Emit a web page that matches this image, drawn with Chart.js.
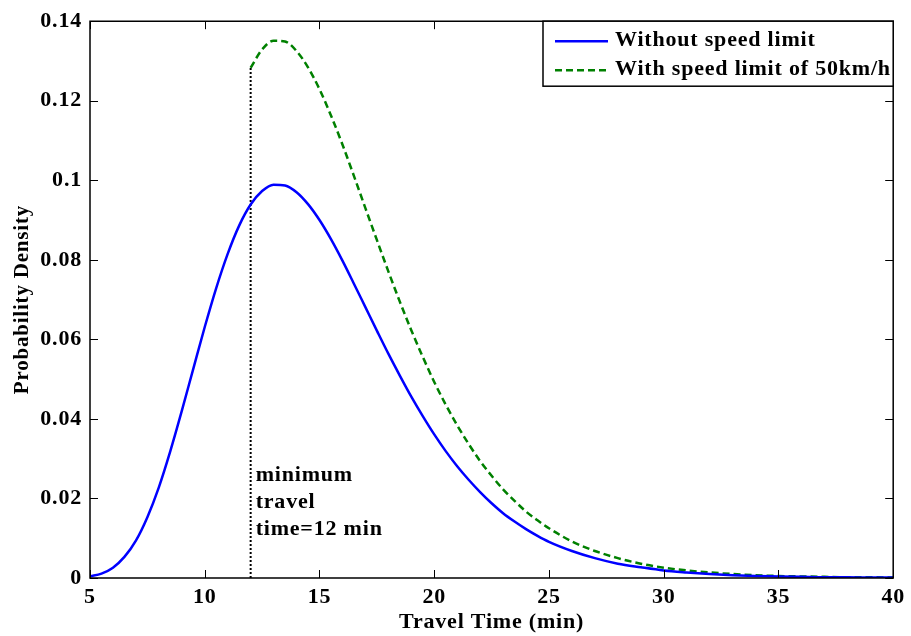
<!DOCTYPE html>
<html lang="en">
<head>
<meta charset="UTF-8">
<title>Travel time distribution</title>
<script src="https://cdn.jsdelivr.net/npm/chart.js@4.4.1/dist/chart.umd.min.js"></script>
<style>
  html, body { margin: 0; padding: 0; background: #fff; }
  #box { width: 911px; height: 636px; }
</style>
</head>
<body>
<div id="box"><canvas id="myChart"></canvas></div>
<script>
// travel time (min)
const times = [5, 5.5, 6, 6.5, 7, 7.5, 8, 8.5, 9, 9.5, 10, 10.5, 11, 11.5,
               12, 12.5, 13, 13.5, 14, 14.5, 15, 15.5, 16, 16.5, 17, 17.5, 18, 18.5,
               19, 19.5, 20, 20.5, 21, 21.5, 22, 22.5, 23, 23.5, 24, 24.5, 25,
               26, 27, 28, 29, 30, 31, 32, 33, 34, 35, 36, 37, 38, 39, 40];
// probability density
const withoutLimit = [0.0004, 0.0011, 0.0026, 0.0053, 0.0094, 0.0153, 0.0228, 0.0319, 0.0420, 0.0526,
                      0.0631, 0.0729, 0.0815, 0.0886, 0.0939, 0.0973, 0.0989, 0.0987, 0.0970, 0.0940,
                      0.0900, 0.0852, 0.0798, 0.0740, 0.0681, 0.0622, 0.0564, 0.0509, 0.0456, 0.0407,
                      0.0361, 0.0319, 0.0281, 0.0247, 0.0216, 0.0188, 0.0163, 0.0142, 0.0123, 0.0106,
                      0.0091, 0.0068, 0.0050, 0.0036, 0.0027, 0.0019, 0.0014, 0.0010, 0.0007, 0.0005,
                      0.0004, 0.0003, 0.0002, 0.0002, 0.0001, 0.0001];
const withLimit = [null, null, null, null, null, null, null, null, null, null, null, null, null, null,
                   0.1283, 0.1329, 0.1351, 0.1349, 0.1325, 0.1284, 0.1229, 0.1163, 0.1090, 0.1011,
                   0.0930, 0.0850, 0.0771, 0.0695, 0.0623, 0.0556, 0.0493, 0.0436, 0.0384, 0.0337,
                   0.0294, 0.0257, 0.0223, 0.0194, 0.0167, 0.0145, 0.0125,
                   0.0092, 0.0068, 0.0050, 0.0036, 0.0026, 0.0019, 0.0014, 0.0010, 0.0007, 0.0005,
                   0.0004, 0.0003, 0.0002, 0.0002, 0.0001];
const minTime = 12;
const seriesNames = ['Without speed limit', 'With speed limit of 50km/h'];
const noteLines = ['minimum', 'travel', 'time=12 min'];
const xTicks = [5, 10, 15, 20, 25, 30, 35, 40];
const yTickLabels = ['0', '0.02', '0.04', '0.06', '0.08', '0.1', '0.12', '0.14'];

const FONT = "'Times New Roman', 'Liberation Serif', serif";
const SPACING = '0.8px'; // matlab prints its text a bit spread out

function f_points(p_ys) {
    let l_pts = [];
    for (let i = 0; i < times.length; i++) {
        if (p_ys[i] !== null) l_pts.push({x: times[i], y: p_ys[i]});
    }
    return l_pts;
}
let l_start = withLimit.find(v => v !== null);

// frame, inward ticks, note text and legend (matlab look)
const matlabPlugin = {
    id: 'matlab',
    beforeLayout(chart) { chart.ctx.letterSpacing = SPACING; },
    beforeDraw(chart) { chart.ctx.letterSpacing = SPACING; },
    afterDatasetsDraw(chart) {
        const ctx = chart.ctx, a = chart.chartArea;
        const xs = chart.scales.x, ys = chart.scales.y;
        ctx.save();
        ctx.letterSpacing = SPACING;
        ctx.strokeStyle = '#000';
        ctx.lineWidth = 1.5;
        ctx.beginPath();
        ctx.rect(a.left, a.top, a.right - a.left, a.bottom - a.top);
        ctx.stroke();
        ctx.lineWidth = 1;
        ctx.beginPath();
        xTicks.forEach(v => {
            const px = Math.round(xs.getPixelForValue(v)) + 0.5;
            ctx.moveTo(px, a.bottom); ctx.lineTo(px, a.bottom - 8);
            ctx.moveTo(px, a.top); ctx.lineTo(px, a.top + 8);
        });
        ys.ticks.forEach(t => {
            const py = Math.round(ys.getPixelForValue(t.value)) + 0.5;
            ctx.moveTo(a.left, py); ctx.lineTo(a.left + 8, py);
            ctx.moveTo(a.right, py); ctx.lineTo(a.right - 8, py);
        });
        ctx.stroke();

        // note next to the dotted line
        ctx.fillStyle = '#000';
        ctx.font = 'bold 22px ' + FONT;
        ctx.textBaseline = 'middle';
        ctx.textAlign = 'left';
        const nx = xs.getPixelForValue(minTime) + 5;
        noteLines.forEach((s, i) => ctx.fillText(s, nx, 475 + i * 27));

        // legend box
        const lx = 543, ly = a.top, lw = a.right - lx, lh = 65;
        ctx.fillStyle = '#fff';
        ctx.fillRect(lx, ly, lw, lh);
        ctx.lineWidth = 1.5;
        ctx.strokeRect(lx, ly, lw, lh);
        chart.data.datasets.slice(0, 2).forEach((ds, i) => {
            const cy = ly + 20 + i * 29;
            ctx.strokeStyle = ds.borderColor;
            ctx.lineWidth = ds.borderWidth;
            ctx.setLineDash(ds.borderDash || []);
            ctx.beginPath();
            ctx.moveTo(555, cy); ctx.lineTo(608, cy);
            ctx.stroke();
            ctx.setLineDash([]);
            ctx.fillStyle = '#000';
            ctx.font = 'bold 22px ' + FONT;
            ctx.fillText(ds.label, 615, cy - 1);
        });
        ctx.restore();
    }
};

const ctx = document.getElementById('myChart').getContext('2d');
const myChart = new Chart(ctx, {
    type: 'line',
    data: {
        datasets: [{
            label: seriesNames[0],
            data: f_points(withoutLimit),
            borderColor: '#0000ff',
            borderWidth: 2.5,
            pointRadius: 0,
            cubicInterpolationMode: 'monotone'
        }, {
            label: seriesNames[1],
            data: f_points(withLimit),
            borderColor: '#008000',
            borderWidth: 2.5,
            borderDash: [7, 4],
            pointRadius: 0,
            cubicInterpolationMode: 'monotone'
        }, {
            label: 'min',
            data: [{x: minTime, y: 0}, {x: minTime, y: l_start}],
            borderColor: '#000',
            borderWidth: 2,
            borderDash: [2, 2],
            pointRadius: 0
        }]
    },
    options: {
        responsive: true,
        maintainAspectRatio: false,
        animation: false,
        layout: { padding: { top: 19, right: 15, left: 0, bottom: 0 } },
        plugins: { legend: { display: false }, tooltip: { enabled: false } },
        scales: {
            x: {
                type: 'linear', min: 5, max: 40,
                afterBuildTicks: s => { s.ticks = xTicks.map(v => ({value: v})); },
                afterFit: s => { s.height = 58; },
                grid: { display: false, drawTicks: false },
                border: { display: false },
                title: { display: true, text: 'Travel Time (min)', color: '#000',
                         font: { family: FONT, size: 22, weight: 'bold' }, padding: { top: 0, bottom: 0 } },
                ticks: { color: '#000', padding: 6, maxRotation: 0,
                         font: { family: FONT, size: 22, weight: 'bold' } }
            },
            y: {
                min: 0, max: 0.14,
                ticks: { stepSize: 0.02, color: '#000', padding: 8,
                         callback: (v, i) => yTickLabels[i],
                         font: { family: FONT, size: 22, weight: 'bold' } },
                afterFit: s => { s.width = 90; },
                grid: { display: false, drawTicks: false },
                border: { display: false },
                title: { display: true, text: 'Probability Density', color: '#000',
                         font: { family: FONT, size: 21, weight: 'bold' }, padding: { top: 10, bottom: 4 } }
            }
        }
    },
    plugins: [matlabPlugin]
});
</script>
</body>
</html>
